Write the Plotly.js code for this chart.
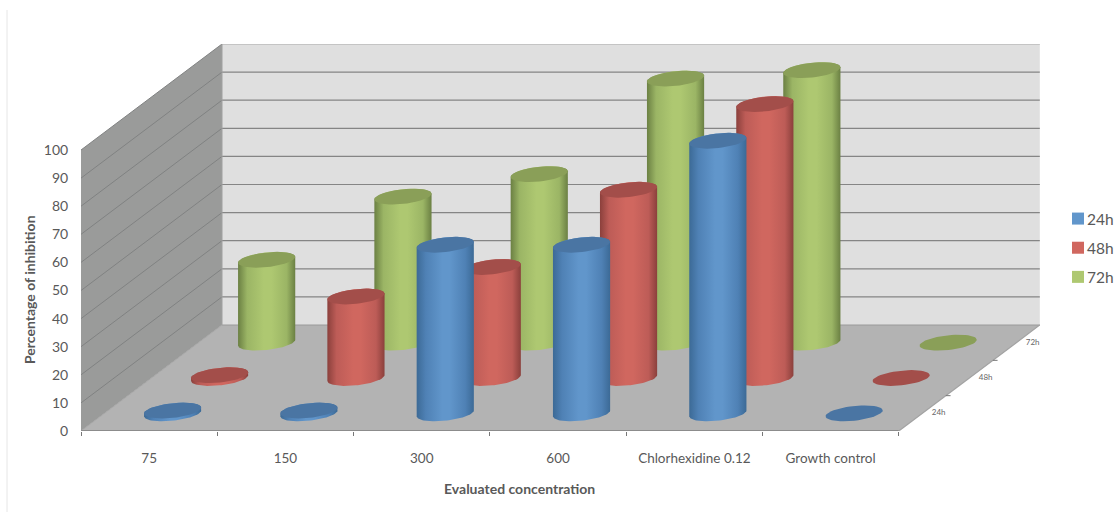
<!DOCTYPE html>
<html>
<head>
<meta charset="utf-8">
<script src="https://cdn.plot.ly/plotly-3.0.1.min.js"></script>
<style>html,body{margin:0;padding:0;background:#fff}#chart{width:1114px;height:512px}</style>
</head>
<body>
<div id="chart"></div>
<script>
// Inhibition percentages by evaluated concentration and incubation time
const categories = ['75', '150', '300', '600', 'Chlorhexidine 0.12', 'Growth control'];
const seriesNames = ['24h', '48h', '72h'];
const values24h = [1, 1, 60, 60, 97, 0];
const values48h = [1, 29, 39.5, 67, 97.5, 0];
const values72h = [29.5, 52, 60, 94, 97, 0];
const valueTicks = [0, 10, 20, 30, 40, 50, 60, 70, 80, 90, 100];

const allValues = [values24h, values48h, values72h];
const palette = [
  {edge: '#3c6a96', mid: '#4f81b5', light: '#6196cb', top: '#4a75a3'},
  {edge: '#8b403c', mid: '#bd5c57', light: '#d0675f', top: '#a34e4a'},
  {edge: '#6b8043', mid: '#9bb565', light: '#aec871', top: '#8a9f58'}
];

// Oblique projection: one depth step shifts a point along both axes
const UNIT_X = 136.3, UNIT_Y = 2.81;           // pixels per axis unit
const DX = (141 / UNIT_X) / 3, DY = (106 / UNIT_Y) / 3;
const px = (cat, depth) => cat + depth * DX;
const py = (val, depth) => val + depth * DY;

const CYL_A = 0.195, CYL_K = 0.224;            // cross-section of a cylinder
const TILT = Math.atan2(CYL_K * DX, CYL_A);
const CYL_EXTENT = Math.hypot(CYL_A, CYL_K * DX);

function arc(cx, cy, from, to) {
  const xs = [], ys = [];
  for (let i = 0; i <= 48; i++) {
    const t = from + (to - from) * i / 48;
    xs.push(cx + CYL_A * Math.cos(t) + CYL_K * DX * Math.sin(t));
    ys.push(cy + CYL_K * DY * Math.sin(t));
  }
  return {xs, ys};
}

const base = {type: 'scatter', mode: 'lines', hoverinfo: 'skip', showlegend: false};
const traces = [];

function polygon(xs, ys, color) {
  traces.push({...base, x: [...xs, xs[0]], y: [...ys, ys[0]], fill: 'toself',
    fillcolor: color, line: {width: 0}});
}
function segment(xs, ys, color, width) {
  traces.push({...base, x: xs, y: ys, line: {color, width}});
}

// Walls and floor
polygon([px(0,0), px(0,0), px(0,3), px(0,3)], [py(0,0), py(100,0), py(100,3), py(0,3)], '#9a9b9a');
polygon([px(0,3), px(6,3), px(6,3), px(0,3)], [py(0,3), py(0,3), py(100,3), py(100,3)], '#dfdfdf');
polygon([px(0,0), px(6,0), px(6,3), px(0,3)], [py(0,0), py(0,0), py(0,3), py(0,3)], '#b3b3b3');

// Gridlines on the side and back walls
valueTicks.forEach(v => {
  if (v === 0) return;
  segment([px(0,0), px(0,3)], [py(v,0), py(v,3)], '#808282', 1);
  segment([px(0,3), px(6,3)], [py(v,3), py(v,3)], v === 100 ? '#c4c4c4' : '#858585', v === 100 ? 2 : 1.2);
});
segment([px(0,0), px(0,3)], [py(0,0), py(0,3)], '#a6a6a6', 1);
segment([px(0,3), px(6,3)], [py(0,3), py(0,3)], '#9a9a9a', 1);
segment([px(0,3), px(0,3)], [py(0,3), py(100,3)], '#a0a0a0', 1);
segment([px(0,0), px(6,0)], [py(0,0), py(0,0)], '#8c8c8c', 2);
segment([px(6,0), px(6,3)], [py(0,0), py(0,3)], '#a2a2a2', 1.2);
[1, 2].forEach(d => segment([px(6,d), px(6.035,d)], [py(0,d), py(0,d)], '#777777', 1));

// Cylinders, furthest series first
for (let s = 2; s >= 0; s--) {
  const col = palette[s], depth = s + 0.5;
  allValues[s].forEach((v, c) => {
    const cx = px(c + 0.5, depth), y0 = py(0, depth), y1 = py(v, depth);
    if (v > 0) {
      const low = arc(cx, y0, TILT + Math.PI, TILT + 2 * Math.PI);
      const up = arc(cx, y1, TILT, TILT + Math.PI);
      traces.push({...base, x: [...low.xs, ...up.xs, low.xs[0]], y: [...low.ys, ...up.ys, low.ys[0]],
        fill: 'toself', line: {width: 0},
        fillgradient: {type: 'horizontal', start: cx - CYL_EXTENT, stop: cx + CYL_EXTENT,
          colorscale: [[0, col.edge], [0.16, col.mid], [0.45, col.light], [0.58, col.light], [0.85, col.mid], [1, col.edge]]}});
    }
    const cap = arc(cx, y1, 0, 2 * Math.PI);
    traces.push({...base, x: cap.xs, y: cap.ys, fill: 'toself', fillcolor: col.top, line: {width: 0}});
  });
}

// Depth axis labels beside the floor
traces.push({...base, mode: 'text', x: seriesNames.map((_, s) => px(6.12, s + 0.5)),
  y: seriesNames.map((_, s) => py(0, s + 0.5)), text: seriesNames,
  textposition: 'middle center', textfont: {family: 'Lato, sans-serif', size: 8, color: '#666666'}, cliponaxis: false});

// Legend entries
seriesNames.forEach((name, s) => traces.push({type: 'scatter', mode: 'markers', name, x: [null], y: [null],
  legendgroup: name, hoverinfo: 'skip', marker: {symbol: 'square', size: 12, color: palette[s].light}}));

const textColor = '#595959';
const layout = {
  width: 1114, height: 512,
  margin: {l: 81, r: 74, t: 44, b: 81},
  paper_bgcolor: '#ffffff', plot_bgcolor: 'rgba(0,0,0,0)',
  font: {family: 'Lato, sans-serif', color: textColor},
  xaxis: {
    range: [0, 959 / UNIT_X], showgrid: false, zeroline: false, showline: false,
    tickmode: 'array', tickvals: categories.map((_, i) => i + 0.5), ticktext: categories,
    ticks: 'outside', ticklen: 15, tickcolor: 'rgba(0,0,0,0)', tickfont: {size: 13.5, color: textColor},
    minor: {tickmode: 'array', tickvals: [0, 1, 2, 3, 4, 5, 6], ticks: 'outside', ticklen: 4, tickcolor: '#777777', tickwidth: 1, showgrid: false}
  },
  yaxis: {
    range: [0, 387 / UNIT_Y], showgrid: false, zeroline: false, showline: false,
    tickmode: 'array', tickvals: valueTicks, ticks: 'outside', ticklen: 9,
    tickcolor: 'rgba(0,0,0,0)', tickfont: {size: 14, color: textColor}
  },
  showlegend: true,
  legend: {x: 1047 / 1114, xref: 'container', y: 1 - 202 / 512, yref: 'container', xanchor: 'left', yanchor: 'top',
    tracegroupgap: 6, font: {size: 15.5, color: textColor}, bgcolor: 'rgba(0,0,0,0)', itemclick: false, itemdoubleclick: false},
  annotations: [
    {text: '<b>Evaluated concentration</b>', xref: 'paper', yref: 'paper', x: (519 - 81) / 959, y: (431 - 488) / 387,
      xanchor: 'center', yanchor: 'middle', showarrow: false, font: {size: 14, color: textColor}},
    {text: '<b>Percentage of inhibition</b>', xref: 'paper', yref: 'paper', x: (29 - 81) / 959, y: (431 - 290) / 387,
      xanchor: 'center', yanchor: 'middle', textangle: -90, showarrow: false, font: {size: 14, color: textColor}}
  ],
  shapes: [
    {type: 'line', xref: 'paper', yref: 'paper', x0: (7 - 81) / 959, x1: (7 - 81) / 959, y0: -81 / 387, y1: 421 / 387,
      line: {color: '#e6e6e6', width: 1}}
  ]
};

Plotly.newPlot('chart', traces, layout, {displayModeBar: false, staticPlot: true}).then(gd => {
  // Tighten the space between legend swatches and their labels
  gd.querySelectorAll('.legendsymbols').forEach(n => n.setAttribute('transform', 'translate(11,0)'));
});
</script>
</body>
</html>
